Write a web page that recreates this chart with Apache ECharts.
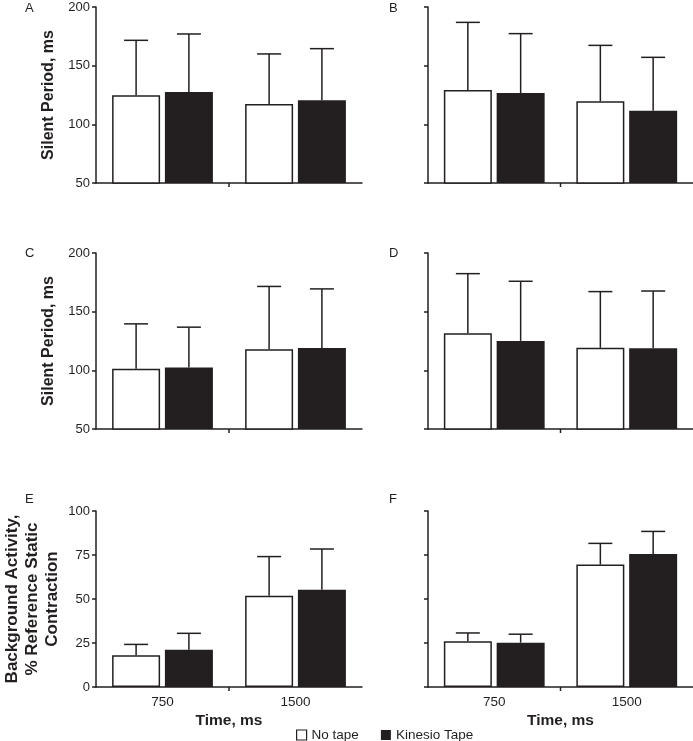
<!DOCTYPE html>
<html>
<head>
<meta charset="utf-8">
<script src="https://cdn.jsdelivr.net/npm/echarts@6/dist/echarts.min.js"></script>
<style>
html,body{margin:0;padding:0;background:#fff;}
#chart{width:693px;height:741px;}
</style>
</head>
<body>
<div id="chart"></div>
<script>
// ---- data ----
const categories = ['750', '1500'];
const panelLetters = ['A', 'B', 'C', 'D', 'E', 'F'];
// per panel (A..F), values at [750, 1500]
const noTapeMean  = [[124.7, 117.3], [129.3, 119.6], [101.3, 117.9], [131.7, 119.2], [18.0, 51.9], [26.0, 69.6]];
const noTapeUpper = [[171.6, 160.0], [186.9, 167.3], [139.6, 171.5], [182.4, 167.1], [24.2, 74.1], [30.7, 81.6]];
const kinesioMean  = [[127.6, 120.5], [126.7, 111.6], [102.4, 119.0], [125.1, 118.9], [21.2, 55.3], [25.2, 75.5]];
const kinesioUpper = [[177.0, 164.5], [177.3, 157.1], [136.8, 169.4], [175.9, 167.6], [30.5, 78.4], [30.0, 88.4]];
const yTicksSilent = [50, 100, 150, 200];
const yTicksBackground = [0, 25, 50, 75, 100];
const seriesNames = ['No tape', 'Kinesio Tape'];
const yTitleSilent = 'Silent Period, ms';
const yTitleBackground = 'Background Activity,\n% Reference Static\nContraction';
const xTitle = 'Time, ms';

// ---- style ----
const INK = '#231f20';
const FONT = '"Liberation Sans", Arial, Helvetica, sans-serif';
const BAR_W = 48;
const BAR_GAP_FRAC = 0.1;
const LINE_W = 1.5;

const colLeft = [96, 428];
const colWidth = [266, 265];
const rowTop = [7, 253, 511];
const rowHeight = 176;
const letterTop = [2, 247, 493];
const letterLeft = [25, 389];

const option = {
  animation: false,
  backgroundColor: '#fff',
  textStyle: { fontFamily: FONT, color: INK },
  grid: [], xAxis: [], yAxis: [], series: [], title: [],
  legend: {
    left: 296, top: 728, padding: 0,
    icon: 'rect', itemWidth: 10, itemHeight: 10, itemGap: 22,
    textStyle: { fontFamily: FONT, fontSize: 13.5, color: INK },
    data: [
      { name: seriesNames[0], itemStyle: { color: '#fff', borderColor: INK, borderWidth: 1.2 } },
      { name: seriesNames[1], itemStyle: { color: INK, borderColor: INK, borderWidth: 0 } }
    ]
  }
};

function errorRender(offsetSign) {
  return function (params, api) {
    const cat = api.value(0), mean = api.value(1), up = api.value(2);
    const p0 = api.coord([cat, mean]);
    const p1 = api.coord([cat, up]);
    const off = offsetSign * (BAR_W + BAR_W * BAR_GAP_FRAC) / 2;
    const x = p0[0] + off;
    const half = BAR_W / 4;
    const st = { stroke: INK, lineWidth: LINE_W };
    return {
      type: 'group',
      children: [
        { type: 'line', shape: { x1: x, y1: p0[1], x2: x, y2: p1[1] }, style: st },
        { type: 'line', shape: { x1: x - half, y1: p1[1], x2: x + half, y2: p1[1] }, style: st }
      ]
    };
  };
}

// middle x-axis tick between the two categories (axis decoration)
function midTickRender(params, api) {
  const a = api.coord([0, 0]);
  const b = api.coord([1, 0]);
  const cs = params.coordSys;
  const x = (a[0] + b[0]) / 2;
  const yb = cs.y + cs.height;
  return { type: 'line', shape: { x1: x, y1: yb, x2: x, y2: yb + 4 }, style: { stroke: INK, lineWidth: LINE_W } };
}

for (let i = 0; i < 6; i++) {
  const row = Math.floor(i / 2), col = i % 2;
  const isBg = row === 2;
  const ticks = isBg ? yTicksBackground : yTicksSilent;
  option.grid.push({ left: colLeft[col], top: rowTop[row], width: colWidth[col], height: rowHeight,
                     containLabel: false, outerBoundsMode: 'none' });
  option.xAxis.push({
    type: 'category', gridIndex: i, data: categories,
    axisLine: { lineStyle: { color: INK, width: LINE_W } },
    axisTick: { show: false },
    axisLabel: { show: isBg, fontSize: 13.5, color: INK, margin: 8, fontFamily: FONT },
    name: isBg ? xTitle : '',
    nameLocation: 'middle', nameGap: 26,
    nameTextStyle: { fontSize: 15.5, fontWeight: 'bold', color: INK, fontFamily: FONT }
  });
  option.yAxis.push({
    type: 'value', gridIndex: i,
    min: ticks[0], max: ticks[ticks.length - 1], interval: ticks[1] - ticks[0],
    axisLine: { show: true, lineStyle: { color: INK, width: LINE_W } },
    axisTick: { show: true, length: 4, lineStyle: { color: INK, width: LINE_W } },
    axisLabel: { show: col === 0, fontSize: 13, color: INK, margin: 6, fontFamily: FONT },
    splitLine: { show: false },
    name: col === 0 ? (isBg ? yTitleBackground : yTitleSilent) : '',
    nameLocation: 'middle', nameRotate: 90,
    nameGap: isBg ? 34 : 37,
    nameTextStyle: isBg
      ? { fontSize: 17, fontWeight: 'bold', color: INK, fontFamily: FONT, lineHeight: 20, align: 'center' }
      : { fontSize: 16, fontWeight: 'bold', color: INK, fontFamily: FONT, lineHeight: 21, align: 'center' }
  });
  option.series.push({
    type: 'bar', name: seriesNames[0], xAxisIndex: i, yAxisIndex: i,
    data: noTapeMean[i], barWidth: BAR_W, barGap: (BAR_GAP_FRAC * 100) + '%',
    itemStyle: { color: '#fff', borderColor: INK, borderWidth: LINE_W },
    emphasis: { disabled: true }, z: 2
  });
  option.series.push({
    type: 'bar', name: seriesNames[1], xAxisIndex: i, yAxisIndex: i,
    data: kinesioMean[i], barWidth: BAR_W, barGap: (BAR_GAP_FRAC * 100) + '%',
    itemStyle: { color: INK, borderColor: INK, borderWidth: 0 },
    emphasis: { disabled: true }, z: 2
  });
  option.series.push({
    type: 'custom', xAxisIndex: i, yAxisIndex: i, z: 3, silent: true,
    renderItem: errorRender(-1),
    encode: { x: 0, y: [1, 2] },
    data: categories.map((c, k) => [k, noTapeMean[i][k], noTapeUpper[i][k]])
  });
  option.series.push({
    type: 'custom', xAxisIndex: i, yAxisIndex: i, z: 3, silent: true,
    renderItem: errorRender(1),
    encode: { x: 0, y: [1, 2] },
    data: categories.map((c, k) => [k, kinesioMean[i][k], kinesioUpper[i][k]])
  });
  option.series.push({
    type: 'custom', xAxisIndex: i, yAxisIndex: i, z: 3, silent: true, clip: false,
    renderItem: midTickRender,
    encode: { x: 0, y: 1 },
    data: [[0, ticks[0]]]
  });
  option.title.push({
    text: panelLetters[i],
    left: letterLeft[col],
    top: letterTop[row],
    padding: 0,
    textStyle: { fontSize: 13, fontWeight: 'normal', color: INK, fontFamily: FONT }
  });
}

const chart = echarts.init(document.getElementById('chart'), null, { renderer: 'canvas' });
chart.setOption(option);
</script>
</body>
</html>
